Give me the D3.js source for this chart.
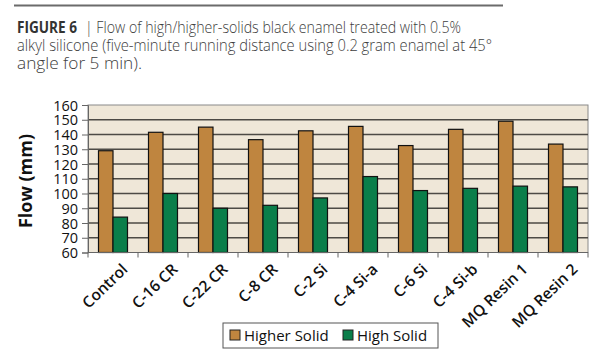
<!DOCTYPE html>
<html>
<head>
<meta charset="utf-8">
<script src="https://cdn.jsdelivr.net/npm/d3@7"></script>
<style>
  html, body { margin: 0; padding: 0; background: #fff; }
  svg { display: block; }
</style>
</head>
<body>
<svg id="chart" width="615" height="350"></svg>
<script>
// Flow test results for high/higher-solids black enamel
const categories = ["Control", "C-16 CR", "C-22 CR", "C-8 CR", "C-2 Si", "C-4 Si-a", "C-6 Si", "C-4 Si-b", "MQ Resin 1", "MQ Resin 2"];
const higherSolid = [129, 141.5, 145, 136.5, 142.5, 145.5, 132.5, 143.5, 149, 133.5];
const highSolid = [84, 100, 90, 92, 97, 111.5, 102, 103.5, 105, 104.5];
const seriesNames = ["Higher Solid", "High Solid"];
const yTicks = [60, 70, 80, 90, 100, 110, 120, 130, 140, 150, 160];

const colors = ["#BF853F", "#0A7E4A"];
const font = "'Open Sans', sans-serif";

const svg = d3.select("#chart");

// Header rule and caption
svg.append("line")
  .attr("x1", 14).attr("x2", 503).attr("y1", 5.5).attr("y2", 5.5)
  .attr("stroke", "#6b6b6b").attr("stroke-width", 2);

const cap = svg.append("g").attr("font-family", font).attr("fill", "#3d3d3d").attr("font-size", 15.5).attr("font-weight", 300);
cap.append("text").attr("x", 17).attr("y", 33)
  .attr("font-size", 16.5).attr("font-weight", 700).attr("fill", "#333")
  .attr("textLength", 60).attr("lengthAdjust", "spacingAndGlyphs").text("FIGURE 6");
cap.append("text").attr("x", 85).attr("y", 33)
  .attr("textLength", 376).attr("lengthAdjust", "spacingAndGlyphs")
  .text("|  Flow of high/higher-solids black enamel treated with 0.5%");
cap.append("text").attr("x", 17).attr("y", 51)
  .attr("textLength", 475).attr("lengthAdjust", "spacingAndGlyphs")
  .text("alkyl silicone (five-minute running distance using 0.2 gram enamel at 45°");
cap.append("text").attr("x", 17).attr("y", 69)
  .attr("textLength", 125).attr("lengthAdjust", "spacingAndGlyphs")
  .text("angle for 5 min).");

// Plot area
const margin = { left: 88, right: 588, top: 105, bottom: 252.5 };

const x0 = d3.scaleBand().domain(categories).range([margin.left, margin.right]).paddingInner(0.42).paddingOuter(0.21);
const x1 = d3.scaleBand().domain(seriesNames).range([0, x0.bandwidth()]);
const y = d3.scaleLinear().domain([60, 160]).range([margin.bottom, margin.top]);

svg.append("rect")
  .attr("x", margin.left).attr("y", margin.top)
  .attr("width", margin.right - margin.left).attr("height", margin.bottom - margin.top)
  .attr("fill", "#EFE7D8").attr("stroke", "#8a8a8a").attr("stroke-width", 1);

// Gridlines
svg.append("g").selectAll("line").data(yTicks.slice(1, -1)).join("line")
  .attr("x1", margin.left).attr("x2", margin.right)
  .attr("y1", d => y(d)).attr("y2", d => y(d))
  .attr("stroke", "#4d4a45").attr("stroke-width", 1.3);

// Bars
const data = categories.map((c, i) => ({ cat: c, vals: [higherSolid[i], highSolid[i]] }));
const groups = svg.append("g").selectAll("g").data(data).join("g")
  .attr("transform", d => `translate(${x0(d.cat)},0)`);
groups.selectAll("rect").data(d => d.vals.map((v, j) => ({ v, j }))).join("rect")
  .attr("x", d => x1(seriesNames[d.j]))
  .attr("y", d => y(d.v))
  .attr("width", x1.bandwidth())
  .attr("height", d => y(60) - y(d.v))
  .attr("fill", d => colors[d.j])
  .attr("stroke", "#111").attr("stroke-width", 1.2);

// Y axis
const yAxis = svg.append("g").attr("transform", `translate(${margin.left},0)`)
  .call(d3.axisLeft(y).tickValues(yTicks).tickSize(6).tickPadding(4));
yAxis.select(".domain").attr("stroke", "#666");
yAxis.selectAll(".tick line").attr("stroke", "#666");
yAxis.selectAll("text").attr("font-family", font).attr("font-size", 14.5).attr("fill", "#111")
  .attr("dy", "0.36em");

// X axis
const xAxis = svg.append("g").attr("transform", `translate(0,${margin.bottom})`);
xAxis.append("line").attr("x1", margin.left).attr("x2", margin.right).attr("stroke", "#666");
xAxis.selectAll("line.tk").data(d3.range(categories.length + 1)).join("line")
  .attr("class", "tk")
  .attr("x1", i => margin.left + i * (margin.right - margin.left) / categories.length)
  .attr("x2", i => margin.left + i * (margin.right - margin.left) / categories.length)
  .attr("y1", 0).attr("y2", 5).attr("stroke", "#666");
xAxis.selectAll("text").data(categories).join("text")
  .attr("transform", d => `translate(${x0(d) + x0.bandwidth() / 2 + 8},${10}) rotate(-44)`)
  .attr("text-anchor", "end")
  .attr("dy", "0.71em")
  .attr("font-family", font).attr("font-size", 15.5).attr("font-weight", 600).attr("fill", "#111")
  .text(d => d);

// Y axis title
svg.append("text")
  .attr("transform", `translate(32,181) rotate(-90)`)
  .attr("text-anchor", "middle")
  .attr("font-family", font).attr("font-size", 18).attr("font-weight", 700).attr("fill", "#111")
  .text("Flow (mm)");

// Legend
const legend = svg.append("g");
legend.append("rect").attr("x", 223).attr("y", 323).attr("width", 215).attr("height", 25)
  .attr("fill", "#fff").attr("stroke", "#555").attr("stroke-width", 1);
const items = [{ name: seriesNames[0], x: 230, c: colors[0] }, { name: seriesNames[1], x: 343, c: colors[1] }];
items.forEach(it => {
  legend.append("rect").attr("x", it.x).attr("y", 330).attr("width", 10).attr("height", 10)
    .attr("fill", it.c).attr("stroke", "#222").attr("stroke-width", 1);
  legend.append("text").attr("x", it.x + 14).attr("y", 341)
    .attr("font-family", font).attr("font-size", 15).attr("fill", "#111").text(it.name);
});
</script>
</body>
</html>
